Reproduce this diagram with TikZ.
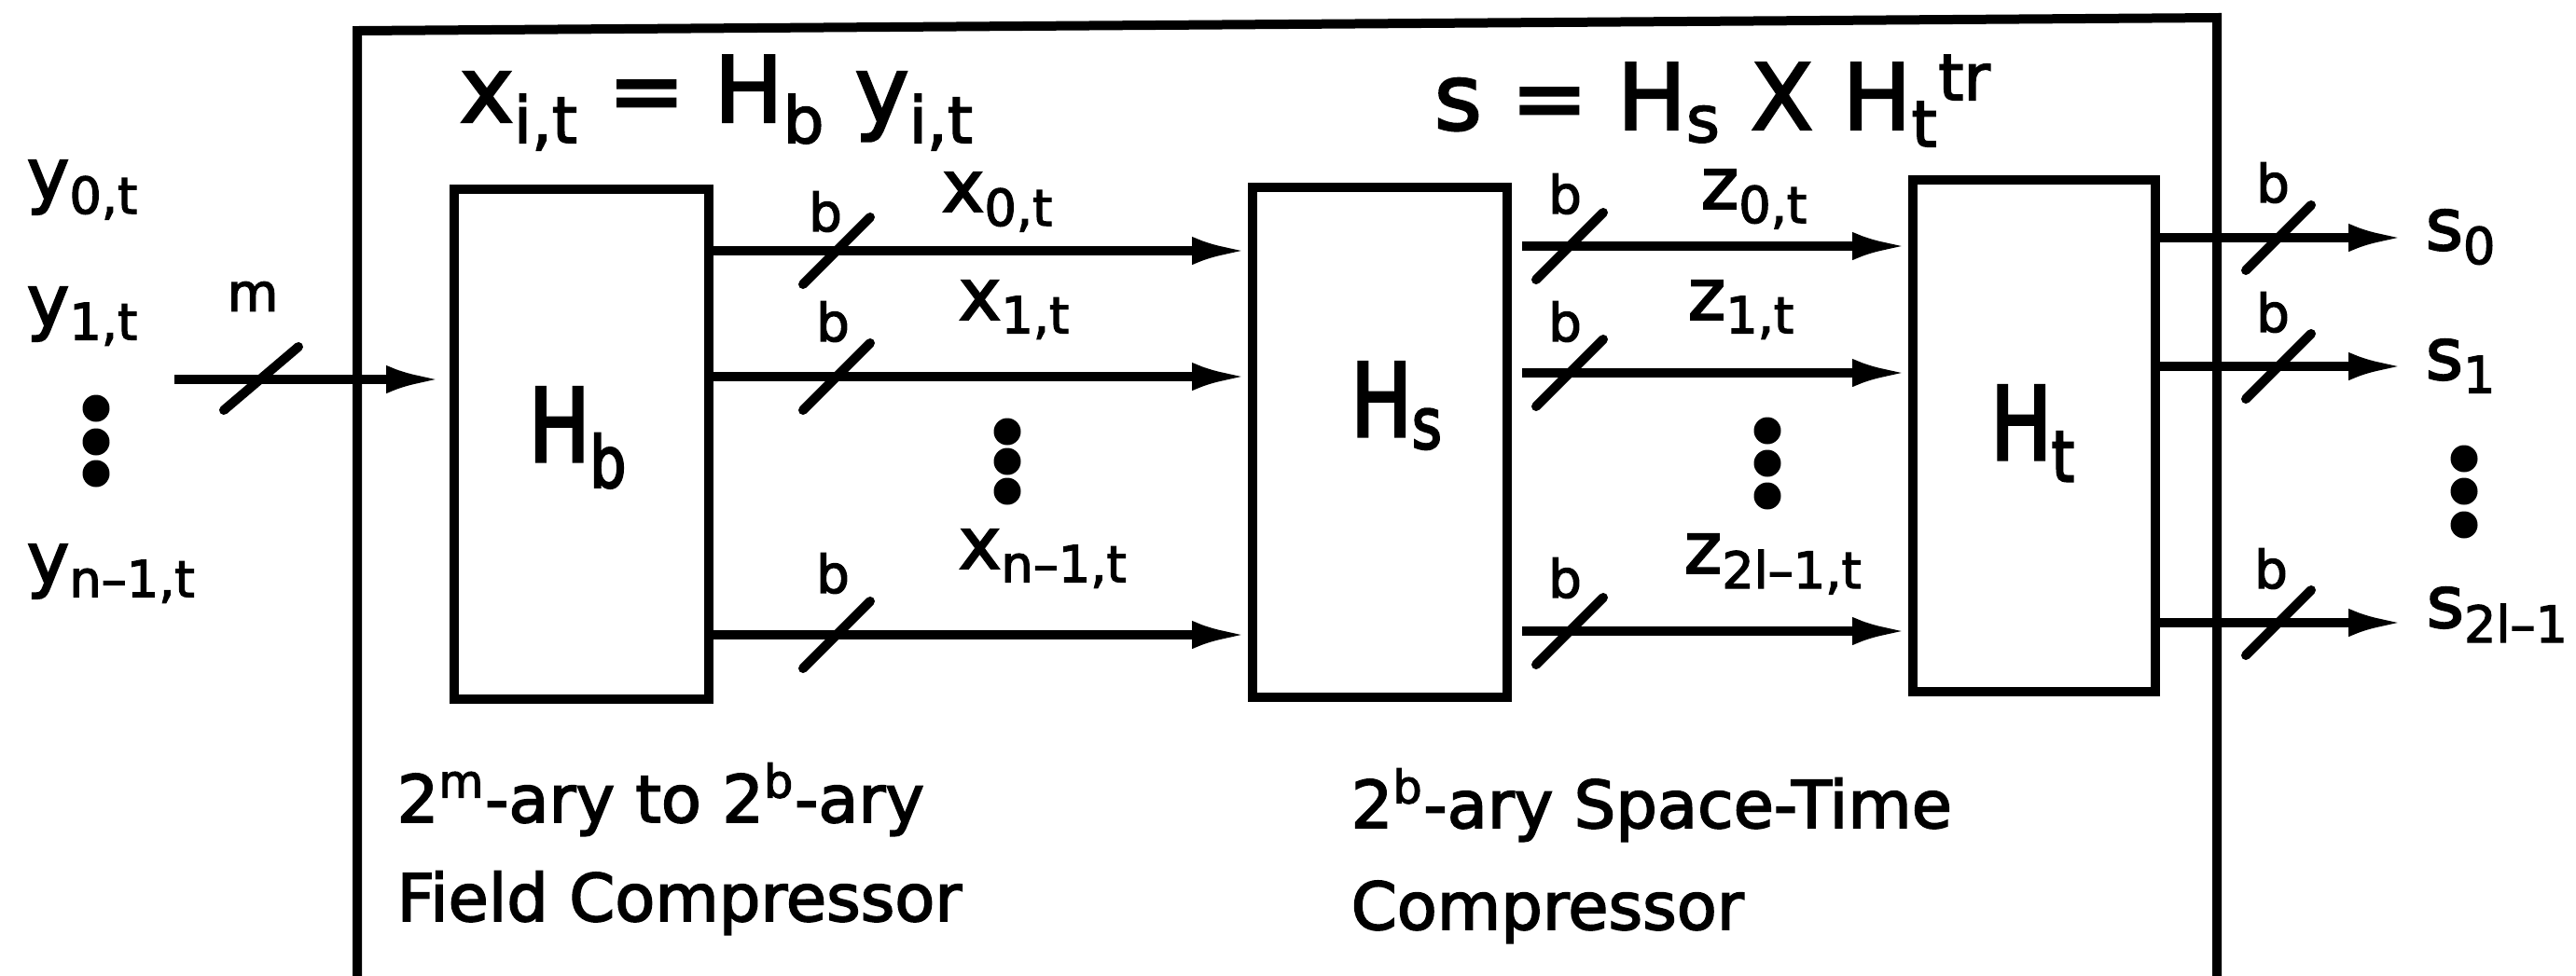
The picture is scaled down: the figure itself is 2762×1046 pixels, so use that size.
\documentclass[tikz,border=0pt]{standalone}
\usepackage{fontspec}
\setmainfont{DejaVu Sans}[FakeBold=2.5]
\newfontfamily\narrowfont{DejaVu Sans}[FakeBold=3,FakeStretch=0.8]
\usetikzlibrary{arrows.meta}
\begin{document}
\begin{tikzpicture}[x=0.1mm,y=-0.1mm,
  box/.style={draw,line width=1mm,inner sep=0pt,minimum width=27.3mm,minimum height=54.7mm},
  wire/.style={line width=1mm},
  arr/.style={wire,-{Latex[length=6mm,width=3mm]}},
  slash/.style={line width=1mm,line cap=round},
  big/.style={inner sep=0pt,anchor=base west,font=\fontsize{28}{32}\selectfont},
  blk/.style={inner sep=0pt,anchor=base,font=\narrowfont\fontsize{31}{34}\selectfont},
  sig/.style={inner sep=0pt,anchor=base west,font=\fontsize{22}{24}\selectfont},
  wlbl/.style={inner sep=0pt,anchor=center,font=\fontsize{16}{18}\selectfont},
  desc/.style={inner sep=0pt,anchor=base west,font=\fontsize{20}{24}\selectfont},
  dotmark/.style={fill,circle,inner sep=0pt,minimum size=2.9mm}
]
\useasboundingbox (0,0) rectangle (2762,1046);
% outer frame (open at the bottom edge)
\draw[wire] (383,1060) -- (383,33) -- (2377,19) -- (2377,1060);

% blocks
\node[box] (Hb) at (623.5,476.5) {};
\node[box] (Hs) at (1479.5,474) {};
\node[box,minimum width=26mm,minimum height=54.9mm] (Ht) at (2181,467.5) {};
\node[blk] (lHb) at (620,495) {H\textsubscript{b}};
\node[blk] (lHs) at (1498,468) {H\textsubscript{s}};
\node[blk] (lHt) at (2180,493) {H\textsubscript{t}};

% formulas
\node[big] (f1) at (492,131) {x\textsubscript{i,t} = H\textsubscript{b} y\textsubscript{i,t}};
\node[big] (f2) at (1537,139) {s = H\textsubscript{s} X H\textsubscript{t}\textsuperscript{tr}};

% inputs
\node[sig] (y0) at (28,214) {y\textsubscript{0,t}};
\node[sig] (y1) at (28,350) {y\textsubscript{1,t}};
\node[sig] (yn) at (28,626) {y\textsubscript{n--1,t}};
\node[dotmark] (d1) at (103,438) {};
\node[dotmark] (d2) at (103,474) {};
\node[dotmark] (d3) at (103,508) {};

\coordinate (in) at (187,407);
\draw[arr,shorten >=0.8mm] (in) -- (Hb.west |- in);
\draw[slash] (240,440) -- (320,372);
\node[wlbl] (lm) at (271,318) {m};

% stage 1: Hb -> Hs
\foreach \y in {269,404,681}{
  \draw[arr] (Hb.east |- 0,\y) -- (Hs.west |- 0,\y);
  \draw[slash] (897,\y) ++(-36,36) -- ++(72,-72);
}
\node[wlbl] (b11) at (885,227) {b};
\node[wlbl] (b12) at (893,345) {b};
\node[wlbl] (b13) at (893,615) {b};
\node[sig] (x0) at (1009,227) {x\textsubscript{0,t}};
\node[sig] (x1) at (1027,343) {x\textsubscript{1,t}};
\node[sig] (xn) at (1027,610) {x\textsubscript{n--1,t}};
\node[dotmark] (e1) at (1080,463) {};
\node[dotmark] (e2) at (1080,495) {};
\node[dotmark] (e3) at (1080,527) {};

% stage 2: Hs -> Ht
\foreach \y in {264,400,677}{
  \draw[arr,shorten <=1.1mm] (Hs.east |- 0,\y) -- (Ht.west |- 0,\y);
  \draw[slash] (1683,\y) ++(-36,36) -- ++(72,-72);
}
\node[wlbl] (b21) at (1678,208) {b};
\node[wlbl] (b22) at (1678,345) {b};
\node[wlbl] (b23) at (1678,620) {b};
\node[sig] (z0) at (1823,224) {z\textsubscript{0,t}};
\node[sig] (z1) at (1809,343) {z\textsubscript{1,t}};
\node[sig] (zn) at (1805,615) {z\textsubscript{2l--1,t}};
\node[dotmark] (g1) at (1895,462) {};
\node[dotmark] (g2) at (1895,497) {};
\node[dotmark] (g3) at (1895,532) {};

% stage 3: Ht -> outputs
\coordinate (o1) at (2578,255);
\coordinate (o2) at (2578,393);
\coordinate (o3) at (2578,668);
\foreach \o in {o1,o2,o3}{
  \draw[arr] (Ht.east |- \o) -- (\o);
}
\foreach \y in {255,393,668}{
  \draw[slash] (2443,\y) ++(-35,35) -- ++(70,-70);
}
\node[wlbl] (b31) at (2437,196) {b};
\node[wlbl] (b32) at (2437,335) {b};
\node[wlbl] (b33) at (2435,610) {b};
\node[sig] (s0) at (2600,268) {s\textsubscript{0}};
\node[sig] (s1) at (2600,407) {s\textsubscript{1}};
\node[sig] (sn) at (2601,673) {s\textsubscript{2l--1}};
\node[dotmark] (h1) at (2642,492) {};
\node[dotmark] (h2) at (2642,527) {};
\node[dotmark] (h3) at (2642,563) {};

% descriptions
\node[desc] (t1) at (425,882) {2\textsuperscript{m}-ary to 2\textsuperscript{b}-ary};
\node[desc] (t2) at (425,988) {Field Compressor};
\node[desc] (t3) at (1448,888) {2\textsuperscript{b}-ary Space-Time};
\node[desc] (t4) at (1448,997) {Compressor};
\end{tikzpicture}
\end{document}
